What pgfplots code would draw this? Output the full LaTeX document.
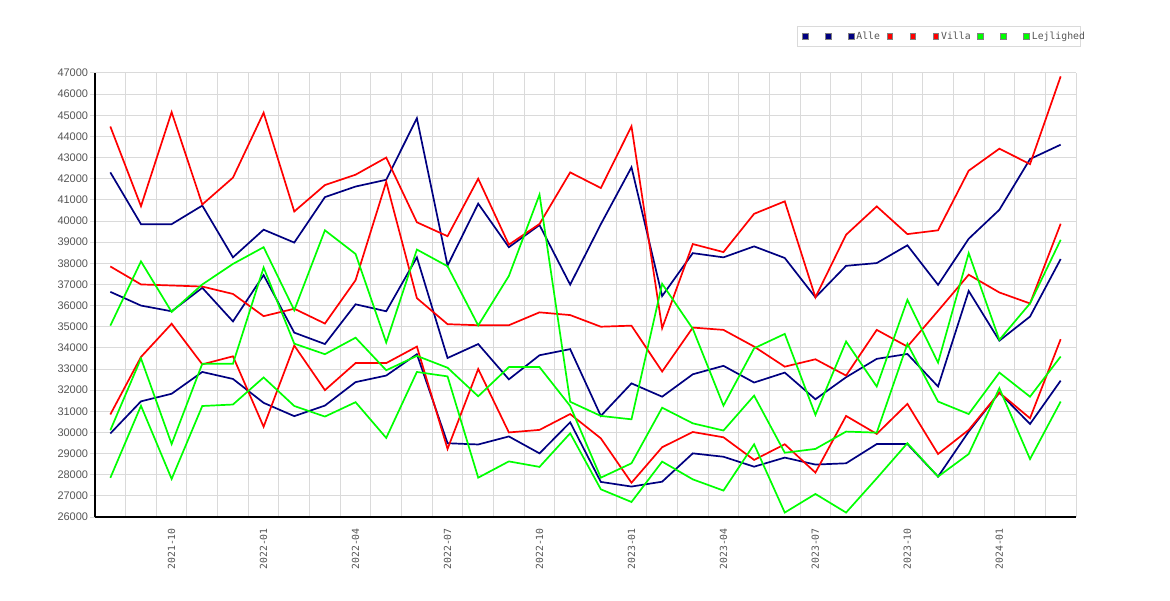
\documentclass[border=0pt]{standalone}
\usepackage{pgfplots}
\pgfplotsset{compat=1.18}
\usepackage{pgfplotstable}
\usepackage{fontspec}
\setmainfont{Liberation Sans}
\newfontfamily\monofont{DejaVu Sans Mono}
\definecolor{navyc}{HTML}{000080}
\definecolor{redc}{HTML}{FF0000}
\definecolor{greenc}{HTML}{00FF00}
\definecolor{gridc}{HTML}{DADADA}
\definecolor{txtc}{HTML}{555555}

\pgfplotstableread{
i hi mid lo
0 42300 36650 29950
1 39850 36000 31470
2 39850 35730 31830
3 40730 36840 32860
4 38280 35250 32530
5 39590 37440 31400
6 38980 34720 30770
7 41130 34180 31270
8 41630 36060 32380
9 41950 35730 32690
10 44860 38280 33700
11 37890 33520 29490
12 40820 34180 29430
13 38760 32510 29810
14 39810 33650 29010
15 36990 33940 30480
16 39850 30780 27660
17 42540 32320 27440
18 36450 31690 27670
19 38480 32750 29010
20 38280 33150 28850
21 38800 32360 28380
22 38250 32830 28810
23 36390 31570 28480
24 37880 32610 28540
25 38010 33480 29450
26 38850 33710 29450
27 36980 32170 27910
28 39160 36690 30040
29 40530 34340 31880
30 42930 35480 30400
31 43610 38200 32450
}\alle

\pgfplotstableread{
i hi mid lo
0 44470 37850 30850
1 40700 37000 33570
2 45150 36950 35140
3 40780 36900 33220
4 42050 36550 33600
5 45120 35500 30270
6 40450 35850 34110
7 41700 35150 32000
8 42190 37200 33280
9 43000 41850 33280
10 39940 36350 34060
11 39280 35120 29220
12 42000 35070 33000
13 38880 35070 30000
14 39860 35680 30120
15 42300 35550 30870
16 41560 35000 29720
17 44480 35050 27620
18 34930 32880 29300
19 38910 34960 30020
20 38530 34850 29770
21 40340 34060 28700
22 40930 33110 29440
23 36390 33460 28100
24 39350 32690 30780
25 40690 34850 29930
26 39380 34060 31350
27 39560 35750 28980
28 42380 37460 30120
29 43420 36620 31880
30 42690 36100 30670
31 46840 39870 34410
}\villa

\pgfplotstableread{
i hi mid lo
0 35050 30100 27850
1 38090 33500 31260
2 35700 29450 27800
3 37000 33250 31250
4 37970 33250 31320
5 38760 37800 32600
6 35780 34200 31250
7 39560 33700 30750
8 38440 34480 31430
9 34250 32940 29740
10 38650 33620 32860
11 37860 33060 32650
12 35060 31710 27860
13 37400 33090 28630
14 41250 33090 28370
15 31450 31250 29960
16 30780 27860 27310
17 30620 28540 26710
18 37030 31170 28620
19 34900 30430 27780
20 31270 30090 27250
21 33980 31740 29440
22 34660 29040 26210
23 30830 29220 27090
24 34300 30040 26210
25 32170 29990 27830
26 36270 34190 29490
27 33300 31460 27910
28 38480 30870 28980
29 34380 32830 32090
30 36100 31690 28740
31 39110 33590 31460
}\lejl

\newcommand\sq[2]{%
  \path[draw=none, fill=none] (0pt,-5pt) rectangle (#2,5pt);
  \path[draw=gray, fill=#1, line width=0.8pt] (0.4pt,-2.9pt) rectangle (6.2pt,2.9pt);}

\begin{document}
\begin{tikzpicture}
\useasboundingbox (0,0) rectangle (1170pt,600pt);
\begin{axis}[
  at={(95pt,83pt)}, anchor=south west,
  width=981pt, height=444pt, scale only axis,
  xmin=-0.5, xmax=31.5, ymin=26000, ymax=47000,
  axis lines*=left,
  axis line style={black, line width=1.2pt},
  xtick={2,5,...,29},
  xticklabels={2021-10,2022-01,2022-04,2022-07,2022-10,2023-01,2023-04,2023-07,2023-10,2024-01},
  minor xtick={0.5,1.5,...,31.5},
  ytick={26000,27000,...,47000},
  ymajorgrids, xminorgrids,
  grid style={gridc, line width=1pt},
  minor grid style={gridc, line width=1pt},
  tick align=outside,
  major tick length=5pt, minor tick length=0pt,
  x tick style={draw=none},
  y tick style={gridc, line width=1pt},
  scaled y ticks=false,
  /pgf/number format/assume math mode=true,
  /pgf/number format/1000 sep={},
  yticklabel style={font=\fontsize{11}{12}\selectfont, text=txtc, inner sep=0pt, xshift=-1.7pt},
  xticklabel style={font=\monofont\fontsize{9.8}{10}\selectfont, text=txtc, inner sep=0pt, yshift=-6pt, rotate=90, anchor=east},
  legend columns=9,
  legend cell align=left,
  legend style={at={(0.7159,1.1059)}, anchor=north west, draw=gridc, line width=1pt,
    inner xsep=4pt, inner ysep=5pt,
    font=\monofont\fontsize{9.8}{10}\selectfont, text=txtc,
    nodes={inner sep=0pt}, column sep=0pt, row sep=0pt,
    /tikz/every even column/.style={column sep=0pt}},
]
\addplot[navyc, line width=1.7pt, legend image code/.code={\sq{navyc}{22pt}}] table[x=i,y=hi]{\alle};
\addlegendentry{\mbox{}}
\addplot[navyc, line width=1.7pt, legend image code/.code={\sq{navyc}{22pt}}] table[x=i,y=mid]{\alle};
\addlegendentry{\mbox{}}
\addplot[navyc, line width=1.7pt, legend image code/.code={\sq{navyc}{8.6pt}}] table[x=i,y=lo]{\alle};
\addlegendentry{Alle\hspace*{6.6pt}}
\addplot[redc, line width=1.7pt, legend image code/.code={\sq{redc}{22pt}}] table[x=i,y=hi]{\villa};
\addlegendentry{\mbox{}}
\addplot[redc, line width=1.7pt, legend image code/.code={\sq{redc}{22pt}}] table[x=i,y=mid]{\villa};
\addlegendentry{\mbox{}}
\addplot[redc, line width=1.7pt, legend image code/.code={\sq{redc}{8.6pt}}] table[x=i,y=lo]{\villa};
\addlegendentry{Villa\hspace*{6.6pt}}
\addplot[greenc, line width=1.7pt, legend image code/.code={\sq{greenc}{22pt}}] table[x=i,y=hi]{\lejl};
\addlegendentry{\mbox{}}
\addplot[greenc, line width=1.7pt, legend image code/.code={\sq{greenc}{22pt}}] table[x=i,y=mid]{\lejl};
\addlegendentry{\mbox{}}
\addplot[greenc, line width=1.7pt, legend image code/.code={\sq{greenc}{8.6pt}}] table[x=i,y=lo]{\lejl};
\addlegendentry{\makebox[44.4pt][l]{Lejlighed}}
\end{axis}
\end{tikzpicture}
\end{document}
